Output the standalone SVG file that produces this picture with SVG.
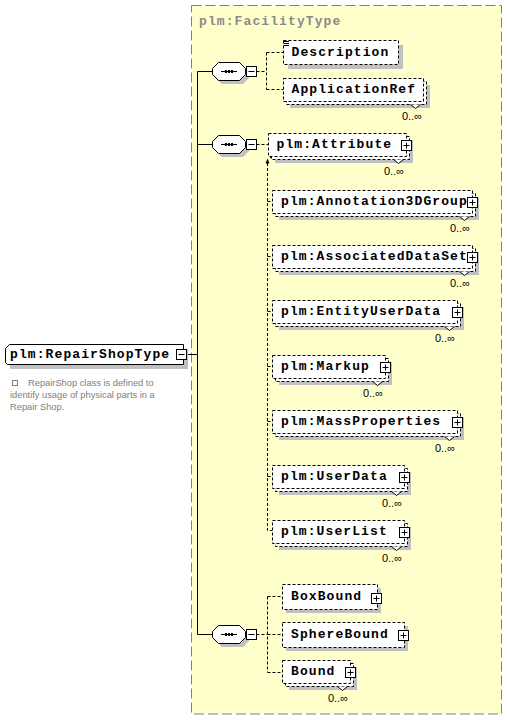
<svg xmlns="http://www.w3.org/2000/svg" width="507" height="720" viewBox="0 0 507 720">
<defs>
<style>
.t{font-family:"Liberation Mono",monospace;font-weight:bold;font-size:13px;letter-spacing:1.1px;fill:#000}
.tt{font-family:"Liberation Mono",monospace;font-weight:bold;font-size:13px;letter-spacing:1.1px;fill:#8a8a8a}
.m{font-family:"Liberation Sans",Arial,sans-serif;font-size:11px;fill:#000;text-anchor:end}
.d{font-family:"Liberation Sans",Arial,sans-serif;font-size:9.3px;fill:#808080}
.bx{fill:#fff;stroke:#000;stroke-width:1;stroke-dasharray:3,2}
.shd{fill:#c0c0c0;stroke:none}
.sb{fill:#fff;stroke:#000;stroke-width:1}
.ln{stroke:#000;stroke-width:1;fill:none}
.dl{stroke:#000;stroke-width:1;fill:none;stroke-dasharray:3,2}
.notch{fill:#fff;stroke:#000;stroke-width:1}
</style>
<g id="plus"><rect class="sb" x="0" y="0" width="10" height="10"/><path class="ln" d="M2,5H8M5,2V8"/></g>
<g id="minus"><rect class="sb" x="0" y="0" width="10" height="10"/><path class="ln" d="M2,5H8"/></g>
<g id="seq">
<polygon class="shd" points="10,4 31,4 37,10 37,16 31,22 10,22 4,16 4,10"/>
<polygon class="sb" points="6.5,0.5 27.5,0.5 33.5,6.5 33.5,12.5 27.5,18.5 6.5,18.5 0.5,12.5 0.5,6.5"/>
<path class="ln" d="M9,9.5H25"/>
<rect x="13" y="8" width="2" height="3" fill="#000"/><rect x="16" y="8" width="2" height="3" fill="#000"/><rect x="19" y="8" width="2" height="3" fill="#000"/>
</g>
</defs>

<rect x="191.5" y="5.5" width="310" height="708.5" fill="#FFFFCC" stroke="#808080" stroke-width="1" stroke-dasharray="10,4"/>
<text class="tt" x="199" y="25">plm:FacilityType</text>

<g id="connectors">
<path class="ln" d="M186,354.5H197.5M197.5,71.5V634.5M197.5,71.5H212M197.5,144.5H212M197.5,634.5H212"/>
<path class="dl" d="M256.5,71.5H266.5M266.5,52.5V89.5M266.5,52.5H283M266.5,89.5H283"/>
<path class="dl" d="M256.5,144.5H268M267.5,163V530.5H272M267.5,201.5H272M267.5,256.5H272M267.5,311.5H272M267.5,366.5H272M267.5,421.5H272M267.5,476.5H272"/>
<polygon points="265.5,163.5 269.5,163.5 267.5,158.5" fill="#000"/>
<path class="ln" d="M270,158L274.5,153.5M271.5,153.5H274.5V156.5"/>
<path class="dl" d="M256.5,634.5H267.5M267.5,596.5V672.5M267.5,596.5H282M267.5,634.5H282M267.5,672.5H282"/>
</g>

<g id="root">
<rect class="shd" x="10" y="349" width="178" height="20"/>
<polygon class="sb" points="9.5,344.5 183.5,344.5 183.5,364.5 7.5,364.5 5.5,362.5 5.5,348.5"/>
<text class="t" x="10" y="358">plm:RepairShopType</text>
<use href="#minus" x="176.5" y="349.5"/>
</g>
<g id="root-doc">
<rect x="12.5" y="380.5" width="5" height="5" fill="none" stroke="#808080"/>
<text class="d" x="28" y="386">RepairShop class is defined to</text>
<text class="d" x="10" y="398">identify usage of physical parts in a</text>
<text class="d" x="10" y="410">Repair Shop.</text>
</g>

<g id="seq1"><use href="#seq" x="212" y="62"/><use href="#minus" x="246.5" y="66.5"/></g>
<g id="seq2"><use href="#seq" x="212" y="135"/><use href="#minus" x="246.5" y="139.5"/></g>
<g id="seq3"><use href="#seq" x="212" y="625"/><use href="#minus" x="246.5" y="629.5"/></g>

<g id="Description">
<rect class="shd" x="288" y="45" width="115" height="24"/>
<rect class="bx" x="283.5" y="40.5" width="115" height="24"/>
<path class="ln" d="M284,41.5H289M284,43.5H289M284,45.5H289"/>
<text class="t" x="291.5" y="56">Description</text>
</g>

<g id="ApplicationRef">
<rect class="shd" x="290" y="85" width="140" height="23"/>
<rect class="bx" x="286.5" y="81.5" width="140" height="23"/>
<rect class="bx" x="283.5" y="78.5" width="140" height="23"/>
<polyline class="notch" points="410.5,104.5 415.5,108.5 420.5,104.5"/>
<text class="t" x="291.5" y="93">ApplicationRef</text>
<text class="m" x="422" y="120">0..∞</text>
</g>

<g id="Attribute">
<rect class="shd" x="275" y="140" width="138" height="23"/>
<rect class="bx" x="271.5" y="136.5" width="138" height="23"/>
<rect class="bx" x="268.5" y="133.5" width="138" height="23"/>
<polyline class="notch" points="393.5,159.5 398.5,163.5 403.5,159.5"/>
<text class="t" x="276.5" y="148">plm:Attribute</text>
<use href="#plus" x="401.5" y="140.5"/>
<text class="m" x="404" y="175">0..∞</text>
</g>

<g id="Annotation3DGroup">
<rect class="shd" x="279" y="197" width="200" height="23"/>
<rect class="bx" x="275.5" y="193.5" width="200" height="23"/>
<rect class="bx" x="272.5" y="190.5" width="200" height="23"/>
<polyline class="notch" points="459.5,216.5 464.5,220.5 469.5,216.5"/>
<text class="t" x="281" y="205">plm:Annotation3DGroup</text>
<use href="#plus" x="467.5" y="197.5"/>
<text class="m" x="470" y="232">0..∞</text>
</g>

<g id="AssociatedDataSet">
<rect class="shd" x="279" y="252" width="200" height="23"/>
<rect class="bx" x="275.5" y="248.5" width="200" height="23"/>
<rect class="bx" x="272.5" y="245.5" width="200" height="23"/>
<polyline class="notch" points="459.5,271.5 464.5,275.5 469.5,271.5"/>
<text class="t" x="281" y="260">plm:AssociatedDataSet</text>
<use href="#plus" x="467.5" y="252.5"/>
<text class="m" x="470" y="287">0..∞</text>
</g>

<g id="EntityUserData">
<rect class="shd" x="279" y="307" width="185" height="23"/>
<rect class="bx" x="275.5" y="303.5" width="185" height="23"/>
<rect class="bx" x="272.5" y="300.5" width="185" height="23"/>
<polyline class="notch" points="444.5,326.5 449.5,330.5 454.5,326.5"/>
<text class="t" x="281" y="315">plm:EntityUserData</text>
<use href="#plus" x="452.5" y="307.5"/>
<text class="m" x="455" y="342">0..∞</text>
</g>

<g id="Markup">
<rect class="shd" x="279" y="362" width="113" height="23"/>
<rect class="bx" x="275.5" y="358.5" width="113" height="23"/>
<rect class="bx" x="272.5" y="355.5" width="113" height="23"/>
<polyline class="notch" points="372.5,381.5 377.5,385.5 382.5,381.5"/>
<text class="t" x="281" y="370">plm:Markup</text>
<use href="#plus" x="380.5" y="362.5"/>
<text class="m" x="383" y="397">0..∞</text>
</g>

<g id="MassProperties">
<rect class="shd" x="279" y="417" width="185" height="23"/>
<rect class="bx" x="275.5" y="413.5" width="185" height="23"/>
<rect class="bx" x="272.5" y="410.5" width="185" height="23"/>
<polyline class="notch" points="444.5,436.5 449.5,440.5 454.5,436.5"/>
<text class="t" x="281" y="425">plm:MassProperties</text>
<use href="#plus" x="452.5" y="417.5"/>
<text class="m" x="455" y="452">0..∞</text>
</g>

<g id="UserData">
<rect class="shd" x="279" y="472" width="132" height="23"/>
<rect class="bx" x="275.5" y="468.5" width="132" height="23"/>
<rect class="bx" x="272.5" y="465.5" width="132" height="23"/>
<polyline class="notch" points="391.5,491.5 396.5,495.5 401.5,491.5"/>
<text class="t" x="281" y="480">plm:UserData</text>
<use href="#plus" x="399.5" y="472.5"/>
<text class="m" x="402" y="507">0..∞</text>
</g>

<g id="UserList">
<rect class="shd" x="279" y="527" width="132" height="23"/>
<rect class="bx" x="275.5" y="523.5" width="132" height="23"/>
<rect class="bx" x="272.5" y="520.5" width="132" height="23"/>
<polyline class="notch" points="391.5,546.5 396.5,550.5 401.5,546.5"/>
<text class="t" x="281" y="535">plm:UserList</text>
<use href="#plus" x="399.5" y="527.5"/>
<text class="m" x="402" y="562">0..∞</text>
</g>

<g id="BoxBound">
<rect class="shd" x="286" y="588" width="95" height="25"/>
<rect class="bx" x="282.5" y="584.5" width="95" height="25"/>
<text class="t" x="291" y="600">BoxBound</text>
<use href="#plus" x="371.5" y="593.5"/>
</g>

<g id="SphereBound">
<rect class="shd" x="286" y="626" width="122" height="25"/>
<rect class="bx" x="282.5" y="622.5" width="122" height="25"/>
<text class="t" x="291" y="638">SphereBound</text>
<use href="#plus" x="398.5" y="630.5"/>
</g>

<g id="Bound">
<rect class="shd" x="289" y="667" width="68" height="23"/>
<rect class="bx" x="285.5" y="663.5" width="68" height="23"/>
<rect class="bx" x="282.5" y="660.5" width="68" height="23"/>
<polyline class="notch" points="337.5,686.5 342.5,690.5 347.5,686.5"/>
<text class="t" x="291" y="675">Bound</text>
<use href="#plus" x="345.5" y="667.5"/>
<text class="m" x="348" y="702">0..∞</text>
</g>
</svg>
